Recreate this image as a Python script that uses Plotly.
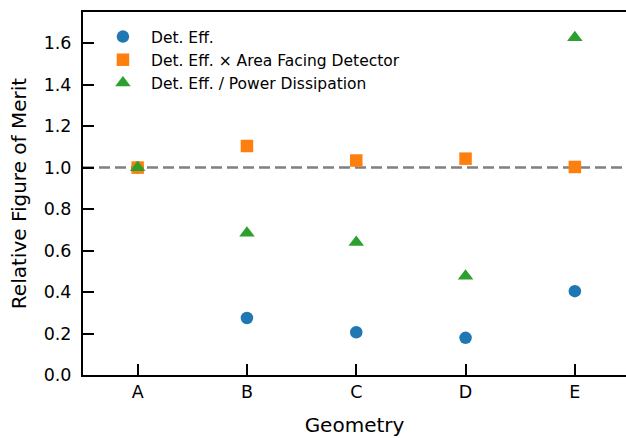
import plotly.graph_objects as go

geometries = ["A", "B", "C", "D", "E"]
det_eff = [1.0, 0.275, 0.206, 0.179, 0.404]
det_eff_area = [1.0, 1.104, 1.034, 1.043, 1.003]
det_eff_power = [1.0, 0.684, 0.640, 0.477, 1.627]
reference_level = 1.0

x_idx = list(range(len(geometries)))
FONT = "DejaVu Sans"

fig = go.Figure()
fig.add_trace(go.Scatter(x=x_idx, y=det_eff, mode="markers", name="Det. Eff.",
                         legendgroup="a",
                         marker=dict(symbol="circle", size=12.5, color="#1f77b4", line=dict(width=0))))
fig.add_trace(go.Scatter(x=x_idx, y=det_eff_area, mode="markers",
                         name="Det. Eff. × Area Facing Detector", legendgroup="b",
                         marker=dict(symbol="square", size=12.5, color="#ff7f0e", line=dict(width=0))))
fig.add_trace(go.Scatter(x=x_idx, y=det_eff_power, mode="markers",
                         name="Det. Eff. / Power Dissipation", legendgroup="c",
                         marker=dict(symbol="triangle-up", size=13.5, color="#2ca02c", line=dict(width=0))))

fig.add_shape(type="line", xref="paper", x0=0, x1=1, yref="y", y0=reference_level, y1=reference_level,
              line=dict(color="#808080", width=2.5, dash="11px,5px"), layer="below")

fig.update_layout(
    width=626, height=438,
    margin=dict(l=83, r=0, t=12, b=63),
    plot_bgcolor="white", paper_bgcolor="white",
    font=dict(family=FONT, color="black"),
    showlegend=True,
    legend=dict(x=0.022, y=0.978, xanchor="left", yanchor="top",
                bgcolor="rgba(0,0,0,0)", borderwidth=0, itemwidth=46,
                font=dict(family=FONT, size=15.5, color="black"),
                traceorder="grouped", tracegroupgap=0),
    xaxis=dict(range=[-0.5, 4.468], tickmode="array", tickvals=x_idx, ticktext=geometries,
               showgrid=False, zeroline=False, showline=True, linecolor="black", linewidth=2,
               mirror=True, ticks="inside", ticklen=11, tickwidth=2, tickcolor="black",
               tickfont=dict(size=17.5), title=dict(text="Geometry", font=dict(size=20), standoff=17)),
    yaxis=dict(range=[0, 1.75], tickmode="array", tickvals=[0, 0.2, 0.4, 0.6, 0.8, 1.0, 1.2, 1.4, 1.6],
               ticktext=["0.0", "0.2", "0.4", "0.6", "0.8", "1.0", "1.2", "1.4", "1.6"],
               showgrid=False, zeroline=False, showline=True, linecolor="black", linewidth=2,
               ticks="inside", ticklen=11, tickwidth=2, tickcolor="black", ticklabelstandoff=6,
               tickfont=dict(size=17.5), title=dict(text="Relative Figure of Merit", font=dict(size=20), standoff=12)),
)

fig.write_html("out.html")
